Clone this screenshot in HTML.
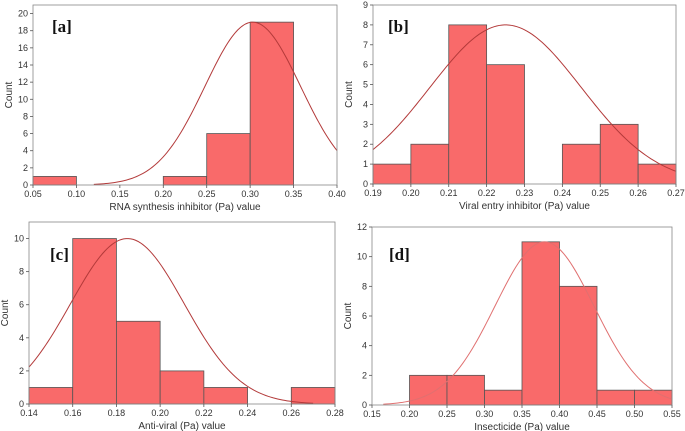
<!DOCTYPE html>
<html><head><meta charset="utf-8"><style>
html,body{margin:0;padding:0;background:#fff;}
svg{display:block;font-family:"Liberation Sans",sans-serif;}
</style></head><body>
<svg id="chart" width="685" height="431"></svg>
<script>
// Panel a
const aEdges=[0.05,0.10,0.15,0.20,0.25,0.30,0.35];
const aCounts=[1,0,0,1,6,19];
const aXTicks=["0.05","0.10","0.15","0.20","0.25","0.30","0.35","0.40"];
const aYTicks=[0,2,4,6,8,10,12,14,16,18,20];
const aFit=[19,0.303,0.055,0.12,0.40];
// Panel b
const bEdges=[0.19,0.20,0.21,0.22,0.23,0.24,0.25,0.26,0.27];
const bCounts=[1,2,8,6,0,2,3,1];
const bXTicks=["0.19","0.20","0.21","0.22","0.23","0.24","0.25","0.26","0.27"];
const bYTicks=[0,1,2,3,4,5,6,7,8,9];
const bFit=[8,0.225,0.02,0.19,0.27];
// Panel c
const cEdges=[0.14,0.16,0.18,0.20,0.22,0.24,0.26,0.28];
const cCounts=[1,10,5,2,1,0,1];
const cXTicks=["0.14","0.16","0.18","0.20","0.22","0.24","0.26","0.28"];
const cYTicks=[0,2,4,6,8,10];
const cFit=[10,0.185,0.026,0.14,0.27];
// Panel d
const dEdges=[0.20,0.25,0.30,0.35,0.40,0.45,0.50,0.55];
const dCounts=[2,2,1,11,8,1,1];
const dXTicks=["0.15","0.20","0.25","0.30","0.35","0.40","0.45","0.50","0.55"];
const dYTicks=[0,2,4,6,8,10,12];
const dFit=[11,0.38,0.066,0.165,0.55];

const NS="http://www.w3.org/2000/svg";
const svg=document.getElementById('chart');
function mk(tag,attrs,parent){const e=document.createElementNS(NS,tag);for(const k in attrs)e.setAttribute(k,attrs[k]);(parent||svg).appendChild(e);return e;}

function panel(cfg){
  const g=mk('g',{});
  
  
  const xs=v=>cfg.x0+(v-cfg.xmin)/(cfg.xmax-cfg.xmin)*(cfg.x1-cfg.x0);
  const ys=v=>cfg.y1-(v-0)/(cfg.ymax)*(cfg.y1-cfg.y0);
  // bars
  cfg.counts.forEach((c,i)=>{
    if(c<=0)return;
    const r=mk('rect',{x:xs(cfg.edges[i]),y:ys(c),width:xs(cfg.edges[i+1])-xs(cfg.edges[i]),height:ys(0)-ys(c),fill:'#f96a6a',stroke:'#555','stroke-width':0.8},g);
    
    
  });
  // fit curve
  const [A,mu,s,f0,f1]=cfg.fit;let d='';
  for(let k=0;k<=120;k++){const v=f0+(f1-f0)*k/120;const y=A*Math.exp(-((v-mu)**2)/(2*s*s));d+=(k?'L':'M')+xs(v).toFixed(2)+','+ys(y).toFixed(2);}
  const p=mk('path',{d:d,fill:'none',stroke:cfg.curveColor,'stroke-width':1},g);
  
  
  // frame
  const fr=mk('rect',{x:cfg.x0,y:cfg.y0,width:cfg.x1-cfg.x0,height:cfg.y1-cfg.y0,fill:'none',stroke:'#888','stroke-width':0.8},g);
  
  
  // x ticks
  cfg.xticks.forEach(t=>{
    const x=xs(parseFloat(t));
    mk('line',{x1:x,x2:x,y1:cfg.y1,y2:cfg.y1+3,stroke:'#555','stroke-width':0.8},g);
    const tx=mk('text',{x:x,y:cfg.y1+12,'font-size':9,fill:'#333','text-anchor':'middle'},g);
    tx.textContent=t;
    
    
  });
  cfg.yticks.forEach(t=>{
    const y=ys(t);
    mk('line',{x1:cfg.x0-3,x2:cfg.x0,y1:y,y2:y,stroke:'#555','stroke-width':0.8},g);
    const tx=mk('text',{x:cfg.x0-5,y:y+3,'font-size':9,fill:'#333','text-anchor':'end'},g);
    tx.textContent=t;
    
    
  });
  const xt=mk('text',{x:(cfg.x0+cfg.x1)/2,y:cfg.y1+25,'font-size':10,fill:'#333','text-anchor':'middle'},g);
  xt.textContent=cfg.xtitle;
  
  
  const yc=(cfg.y0+cfg.y1)/2;
  const yt=mk('text',{x:cfg.ytx,y:yc,'font-size':10,fill:'#333','text-anchor':'middle',transform:'rotate(-90 '+cfg.ytx+' '+yc+')'},g);
  yt.textContent='Count';
  
  
  const lb=mk('text',{x:cfg.lx,y:cfg.ly,'font-size':17,'font-weight':'bold','font-family':'"Liberation Serif",serif',fill:'#111'},g);
  lb.textContent='['+cfg.id+']';
  
  
}
panel({id:'a',x0:33,x1:337,y0:5,y1:185,xmin:0.05,xmax:0.40,ymax:21,edges:aEdges,counts:aCounts,xticks:aXTicks,yticks:aYTicks,fit:aFit,curveColor:'#b33a3a',xtitle:'RNA synthesis inhibitor (Pa) value',ytx:12,lx:52,ly:32});
panel({id:'b',x0:373,x1:676,y0:5,y1:184,xmin:0.19,xmax:0.27,ymax:9,edges:bEdges,counts:bCounts,xticks:bXTicks,yticks:bYTicks,fit:bFit,curveColor:'#b33a3a',xtitle:'Viral entry inhibitor (Pa) value',ytx:352,lx:388,ly:32});
panel({id:'c',x0:29,x1:335,y0:222,y1:404,xmin:0.14,xmax:0.28,ymax:11,edges:cEdges,counts:cCounts,xticks:cXTicks,yticks:cYTicks,fit:cFit,curveColor:'#b33a3a',xtitle:'Anti-viral (Pa) value',ytx:8,lx:50,ly:260});
panel({id:'d',x0:372,x1:672,y0:227,y1:405,xmin:0.15,xmax:0.55,ymax:12,edges:dEdges,counts:dCounts,xticks:dXTicks,yticks:dYTicks,fit:dFit,curveColor:'#e07070',xtitle:'Insecticide (Pa) value',ytx:351,lx:389,ly:260});
</script>
</body></html>
